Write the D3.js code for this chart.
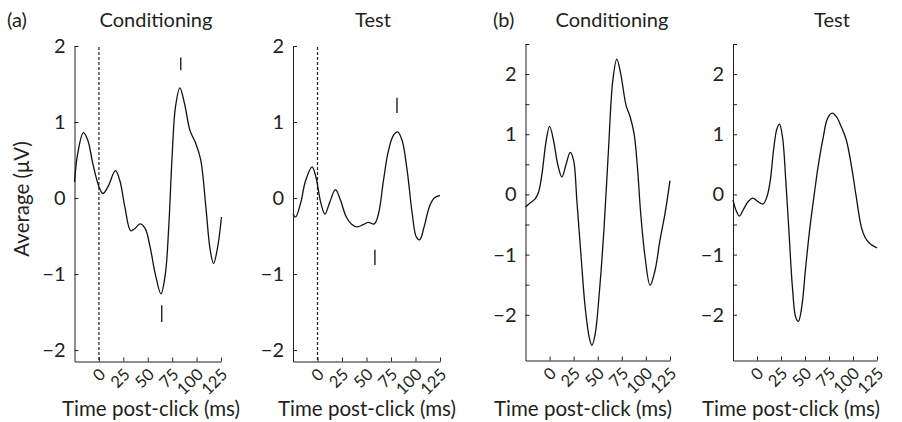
<!DOCTYPE html>
<html><head><meta charset="utf-8">
<script src="https://cdn.jsdelivr.net/npm/d3@7"></script>
<style>
body{margin:0;background:#fff}
text{font-family:Lato,"Open Sans",sans-serif;fill:#231f20}
</style>
</head><body>
<svg id="c" width="902" height="422"></svg>
<script>
// ---------- data ----------
const timeTicks = [0, 25, 50, 75, 100, 125];
const yTicksA = [-2, -1, 0, 1, 2];
const yTicksB = [-2, -1.5, -1, -0.5, 0, 0.5, 1, 1.5, 2, 2.5];
const panelTitles = ["Conditioning", "Test", "Conditioning", "Test"];
const panelLetters = ["(a)", "(b)"];
const yAxisLabel = "Average (μV)";
const xAxisLabel = "Time post-click (ms)";

const tACond = [-25, -21.8, -15.9, -11.4, -6.2, 0, 4.1, 9.3, 16.9, 21.4, 26.6, 32.5, 36.9, 42.1, 47.3, 52.5, 57.7, 63.5, 68, 71.5, 74.9, 78.4, 82.9, 87.7, 93.2, 99.1, 104.3, 109.5, 114, 117.4, 121.5, 125.5];
const vACond = [0.21, 0.58, 0.86, 0.76, 0.45, 0.15, 0.06, 0.15, 0.36, 0.23, -0.12, -0.43, -0.40, -0.34, -0.40, -0.65, -1.0, -1.26, -1.0, -0.38, 0.54, 1.2, 1.45, 1.24, 0.89, 0.72, 0.50, -0.12, -0.69, -0.86, -0.65, -0.25];

const tATest = [-25, -22.4, -17.3, -12.1, -5.5, -1.7, 3.5, 7.6, 12.1, 18.3, 23.5, 29.4, 34.5, 40.7, 46.6, 51.8, 58, 62.2, 67.3, 72.5, 77.7, 81.8, 86.3, 91.5, 96.7, 100.8, 104.3, 108.8, 114, 119.1, 125];
const vATest = [-0.21, -0.25, -0.07, 0.23, 0.41, 0.28, -0.07, -0.21, -0.07, 0.11, -0.03, -0.25, -0.34, -0.38, -0.35, -0.32, -0.34, -0.21, 0.23, 0.63, 0.83, 0.87, 0.76, 0.36, -0.21, -0.51, -0.55, -0.38, -0.12, 0.0, 0.035];

const tBCond = [-25, -20, -14.8, -11.4, -7.9, -3.5, 0, 4.1, 8.3, 12.8, 17.3, 21.4, 24.9, 28.3, 32.5, 36.9, 41.1, 43.9, 47.3, 51.8, 56.6, 61.1, 65.6, 69.8, 73.9, 79.4, 83.6, 87.7, 91.2, 94.6, 99.1, 104.3, 109.5, 114.6, 119.8, 125];
const vBCond = [-0.21, -0.14, -0.07, 0.04, 0.34, 0.90, 1.13, 0.90, 0.51, 0.29, 0.51, 0.70, 0.57, -0.10, -0.99, -1.87, -2.37, -2.51, -2.32, -1.60, -0.54, 0.73, 1.89, 2.25, 2.0, 1.48, 1.29, 1.01, 0.45, -0.32, -1.04, -1.51, -1.26, -0.76, -0.32, 0.23];

const tBTest = [-25, -21.7, -18.3, -13.8, -9.3, -4.5, 1, 6.2, 10.3, 13.8, 17.2, 20.7, 23.4, 26.6, 30, 33.4, 36.9, 40.3, 43.1, 46.6, 50.7, 55.2, 59.7, 63.8, 69, 73.4, 78.3, 82.8, 87.9, 93.1, 98.3, 103.4, 108.6, 112.8, 117.2, 125];
const vBTest = [-0.09, -0.27, -0.36, -0.24, -0.12, -0.06, -0.12, -0.16, -0.04, 0.23, 0.73, 1.09, 1.17, 0.95, 0.23, -0.65, -1.54, -2.04, -2.11, -1.87, -1.21, -0.54, 0.01, 0.48, 0.95, 1.26, 1.35, 1.29, 1.12, 0.90, 0.48, -0.04, -0.54, -0.72, -0.81, -0.89];

// peak markers: time, [v from, v to]
const markerTACond = [83.8, 64.3];
const markerVACond = [[1.68, 1.85], [-1.63, -1.41]];
const markerTATest = [81.1, 58.6];
const markerVATest = [[1.12, 1.32], [-0.88, -0.68]];

// ---------- layout ----------
const svg = d3.select("#c");
const panels = [
  {x0: 74.5, x1: 221, y0: 361.5, y1: 46, yDom: [-2.15, 2], yTicks: yTicksA, t: tACond, v: vACond, title: panelTitles[0], titleX: 156, dashed: true, mT: markerTACond, mV: markerVACond, xLab: 151},
  {x0: 293, x1: 440, y0: 361.5, y1: 46, yDom: [-2.15, 2], yTicks: yTicksA, t: tATest, v: vATest, title: panelTitles[1], titleX: 373, dashed: true, mT: markerTATest, mV: markerVATest, xLab: 367},
  {x0: 525.5, x1: 670, y0: 360.5, y1: 44, yDom: [-2.76, 2.5], yTicks: yTicksB, t: tBCond, v: vBCond, title: panelTitles[2], titleX: 612, dashed: false, xLab: 583},
  {x0: 733, x1: 877, y0: 360.5, y1: 44, yDom: [-2.76, 2.5], yTicks: yTicksB, t: tBTest, v: vBTest, title: panelTitles[3], titleX: 832, dashed: false, xLab: 791}
];

panels.forEach(p => {
  const x = d3.scaleLinear().domain([-25, 125]).range([p.x0, p.x1]);
  const y = d3.scaleLinear().domain(p.yDom).range([p.y0, p.y1]);
  const g = svg.append("g");

  // y axis
  const ya = g.append("g").attr("transform", `translate(${p.x0},0)`)
    .call(d3.axisLeft(y).tickValues(p.yTicks).tickSizeInner(-4).tickSizeOuter(0).tickPadding(9)
      .tickFormat(d => Number.isInteger(d) ? d3.format("")(d).replace("-", "\u2212") : ""));
  ya.selectAll("text").style("font-size", "20px");
  ya.select(".domain").attr("stroke", "#231f20");

  // x axis
  const xa = g.append("g").attr("transform", `translate(0,${p.y0})`)
    .call(d3.axisBottom(x).tickValues(timeTicks).tickSizeInner(-4).tickSizeOuter(0).tickPadding(0));
  xa.selectAll("text")
    .attr("y", null).attr("dy", "0.35em")
    .attr("text-anchor", "end")
    .attr("transform", "translate(3,10) rotate(-45)")
    .style("font-size", "16.5px");
  xa.select(".domain").attr("stroke", "#231f20");
  g.selectAll(".tick line").attr("stroke", "#231f20");

  // dashed stimulus line
  if (p.dashed) {
    g.append("line").attr("x1", x(0)).attr("x2", x(0)).attr("y1", y(2) + 1).attr("y2", p.y0)
      .attr("stroke", "#231f20").attr("stroke-width", 1.2).attr("stroke-dasharray", "3,2");
  }

  // curve
  const pts = p.t.map((t, i) => [t, p.v[i]]);
  g.append("path").datum(pts)
    .attr("fill", "none").attr("stroke", "#111").attr("stroke-width", 1.3)
    .attr("d", d3.line().x(d => x(d[0])).y(d => y(d[1])).curve(d3.curveCatmullRom.alpha(0.5)));

  // markers
  if (p.mT) {
    p.mT.forEach((t, i) => {
      g.append("line").attr("x1", x(t)).attr("x2", x(t))
        .attr("y1", y(p.mV[i][0])).attr("y2", y(p.mV[i][1]))
        .attr("stroke", "#231f20").attr("stroke-width", 1.4);
    });
  }

  // title
  g.append("text").attr("x", p.titleX).attr("y", 27).attr("text-anchor", "middle")
    .style("font-size", "20px").text(p.title);
  // x label
  g.append("text").attr("x", p.xLab).attr("y", 416).attr("text-anchor", "middle")
    .style("font-size", "20.5px").text(xAxisLabel);
});

svg.append("text").attr("x", 7).attr("y", 27).style("font-size", "20px").text(panelLetters[0]);
svg.append("text").attr("x", 493).attr("y", 27).style("font-size", "20px").text(panelLetters[1]);
svg.append("text").attr("transform", "translate(29,199) rotate(-90)").attr("text-anchor", "middle")
  .style("font-size", "20.5px").text(yAxisLabel);
</script>
</body></html>
